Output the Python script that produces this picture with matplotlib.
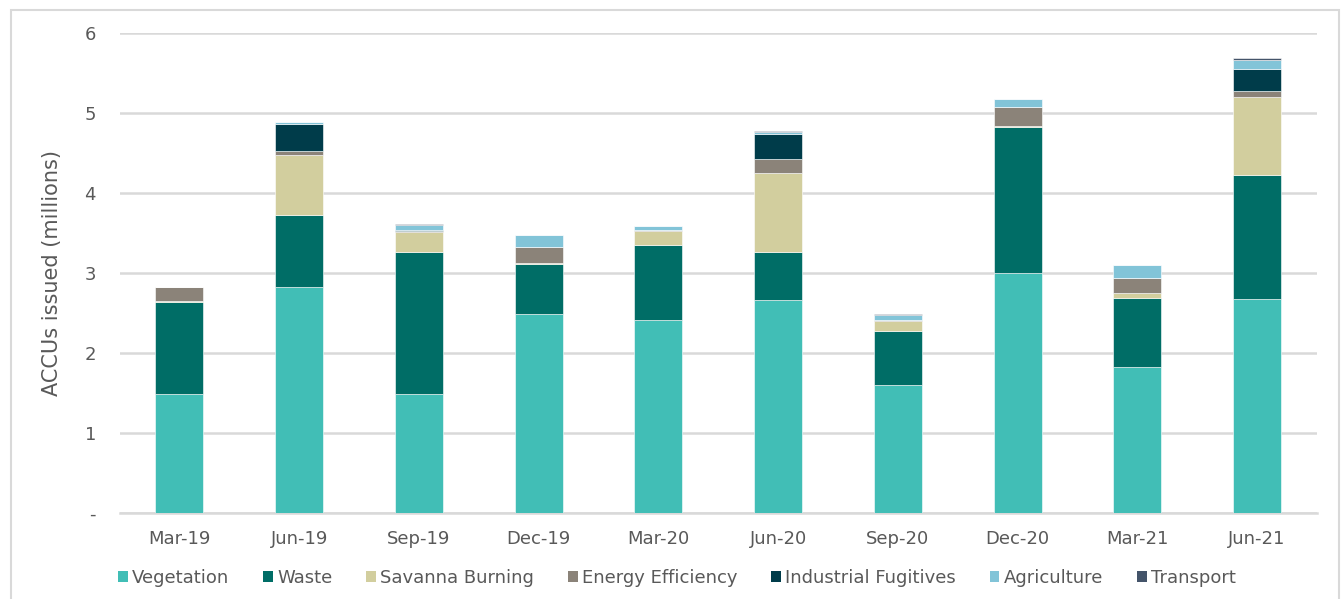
import matplotlib
matplotlib.use("Agg")
import matplotlib.pyplot as plt
from matplotlib.patches import Patch, Rectangle
import numpy as np

quarters = ["Mar-19", "Jun-19", "Sep-19", "Dec-19", "Mar-20",
            "Jun-20", "Sep-20", "Dec-20", "Mar-21", "Jun-21"]

# ACCUs issued per quarter by method type (millions)
vegetation = [1.49, 2.825, 1.49, 2.49, 2.41, 2.66, 1.60, 3.00, 1.825, 2.675]
waste = [1.15, 0.895, 1.77, 0.62, 0.94, 0.60, 0.68, 1.82, 0.865, 1.555]
savanna_burning = [0.005, 0.76, 0.25, 0.02, 0.18, 0.99, 0.12, 0.02, 0.055, 0.97]
energy_efficiency = [0.18, 0.045, 0.015, 0.20, 0.01, 0.175, 0.015, 0.24, 0.195, 0.08]
industrial_fugitives = [0.0, 0.335, 0.015, 0.0, 0.0, 0.315, 0.0, 0.0, 0.0, 0.27]
agriculture = [0.0, 0.03, 0.06, 0.14, 0.05, 0.02, 0.055, 0.10, 0.16, 0.11]
transport = [0.0, 0.0, 0.015, 0.0, 0.0, 0.015, 0.02, 0.0, 0.0, 0.03]

series_names = ["Vegetation", "Waste", "Savanna Burning", "Energy Efficiency",
                "Industrial Fugitives", "Agriculture", "Transport"]
series_values = [vegetation, waste, savanna_burning, energy_efficiency,
                 industrial_fugitives, agriculture, transport]
colors = ["#41BEB6", "#006D66", "#D2CE9E", "#8B8379", "#003C4A", "#82C4D8", "#44546A"]

text_color = "#595959"
grid_color = "#D9D9D9"

fig = plt.figure(figsize=(13.43, 5.99), dpi=100)
ax = fig.add_axes([0.089, 0.1436, 0.8916, 0.8013])

x = np.arange(len(quarters))
bottom = np.zeros(len(quarters))
for name, vals, col in zip(series_names, series_values, colors):
    vals = np.array(vals)
    ax.bar(x, vals, width=0.4, bottom=bottom, color=col, label=name,
           edgecolor="white", linewidth=0.4, zorder=3)
    bottom += vals

ax.set_xlim(-0.5, len(quarters) - 0.5)
ax.set_ylim(0, 6)
ax.set_yticks(range(0, 7))
ax.set_yticklabels(["-"] + [str(i) for i in range(1, 7)])
ax.set_xticks(x)
ax.set_xticklabels(quarters)

ax.yaxis.grid(True, color=grid_color, linewidth=1.8, zorder=0)
ax.set_axisbelow(True)
for s in ["top", "right", "left"]:
    ax.spines[s].set_visible(False)
ax.spines["bottom"].set_color(grid_color)
ax.spines["bottom"].set_linewidth(1.8)

ax.tick_params(axis="both", length=0, colors=text_color, labelsize=13)
ax.tick_params(axis="y", pad=17)
ax.tick_params(axis="x", pad=12)
ax.set_ylabel("ACCUs issued (millions)", color=text_color, fontsize=15, labelpad=16)

handles = [Patch(facecolor=c, edgecolor="none") for c in colors]
fig.legend(handles, series_names, loc="center", bbox_to_anchor=(0.504, 0.035),
           ncol=7, frameon=False, fontsize=13, handlelength=0.55, handleheight=0.55,
           handletextpad=0.25, columnspacing=1.85, labelcolor=text_color)

# light chart border
fig.patches.append(Rectangle((11 / 1343, -0.01), (1339 - 11) / 1343, 1 - 10 / 599 + 0.01,
                             transform=fig.transFigure, fill=False,
                             edgecolor=grid_color, linewidth=1.5))

fig.savefig("out.png", dpi=100, facecolor="white")
